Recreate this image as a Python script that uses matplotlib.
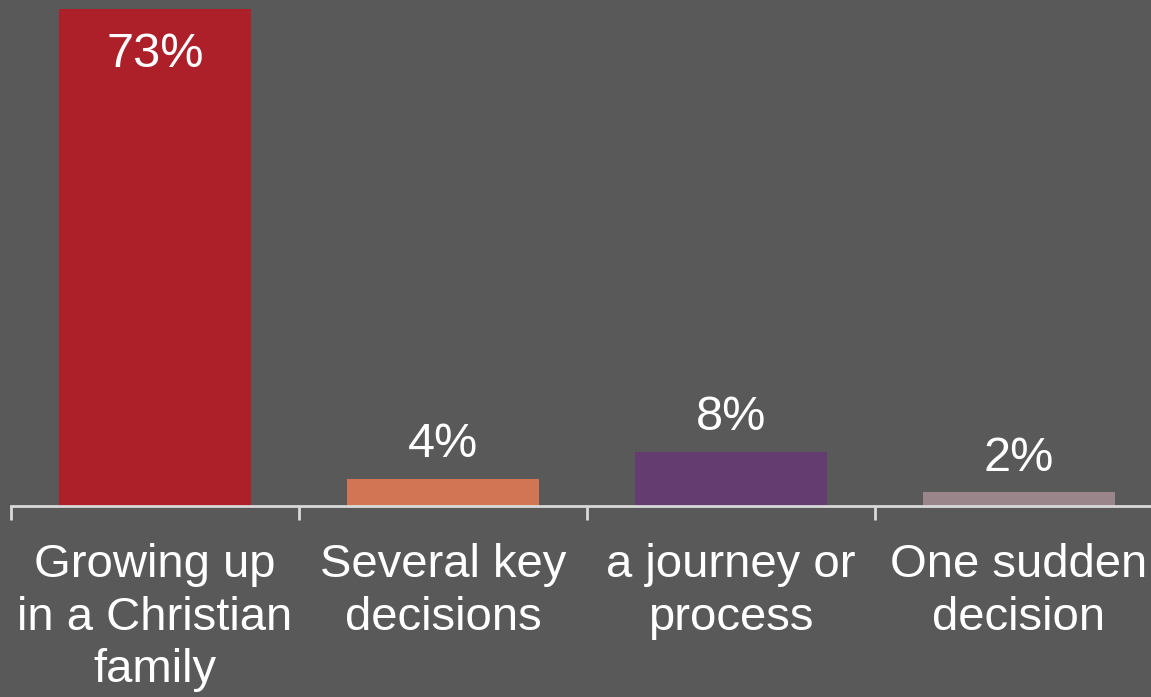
import matplotlib
matplotlib.use("Agg")
import matplotlib.pyplot as plt

categories = ["Growing up\nin a Christian\nfamily", "Several key\ndecisions", "a journey or\nprocess", "One sudden\ndecision"]
values = [73, 4, 8, 2]
value_labels = ["73%", "4%", "8%", "2%"]
colors = ["#AE2029", "#D27554", "#643C6F", "#9A868A"]

plt.rcParams['font.family'] = ['Liberation Sans', 'DejaVu Sans']
bg = "#595959"
W, H = 1151, 697
fig = plt.figure(figsize=(W/100, H/100), dpi=100, facecolor=bg)
ax = fig.add_axes([11/W, (H-506)/H, 1152/W, (506-9)/H])
ax.set_facecolor(bg)
x = list(range(len(values)))
ax.bar(x, values, width=0.67, color=colors, zorder=2)
ax.set_xlim(-0.5, 3.5)
ax.set_ylim(0, 73)
for s in ["top", "right", "left"]:
    ax.spines[s].set_visible(False)
ax.spines["bottom"].set_color("#D9D9D9")
ax.spines["bottom"].set_linewidth(2)
ax.set_yticks([])
ax.set_xticks([-0.5, 0.5, 1.5, 2.5, 3.5])
ax.set_xticklabels([])
ax.tick_params(axis='x', length=10, width=2, color="#D9D9D9", direction='out')
for xi, lab in zip(x, categories):
    ax.annotate(lab, (xi, 0), xytext=(0, -26.5), textcoords='offset points',
                ha='center', va='top', color='white', fontsize=34, linespacing=1.26)
for xi, v, t in zip(x, values, value_labels):
    if v > 50:
        ax.annotate(t, (xi, v), xytext=(0, -41.5), textcoords='offset points',
                    ha='center', va='baseline', color='white', fontsize=35)
    else:
        ax.annotate(t, (xi, v), xytext=(0, 15.5), textcoords='offset points',
                    ha='center', va='baseline', color='white', fontsize=35)
fig.savefig("out.png", dpi=100, facecolor=bg)
